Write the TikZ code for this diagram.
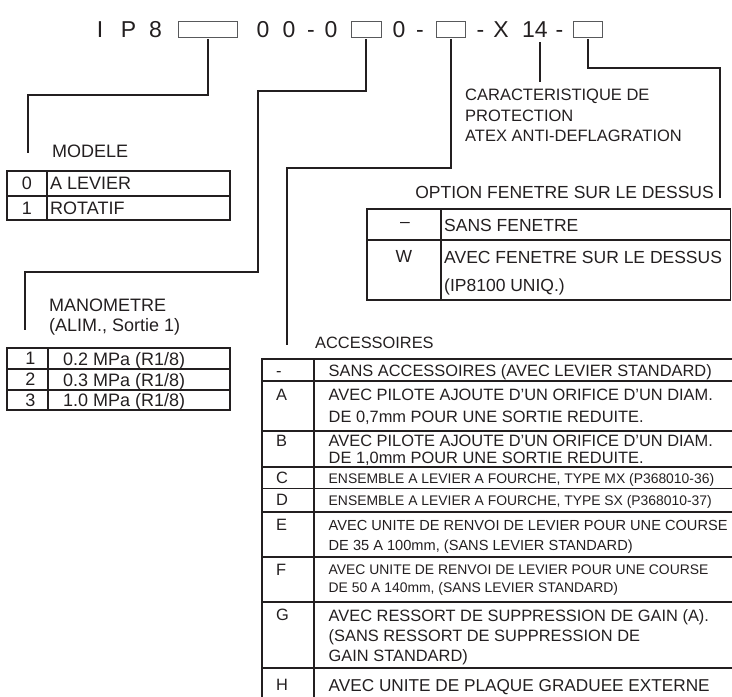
\documentclass[tikz,border=0pt]{standalone}
\usepackage{fontspec}
\setmainfont{Liberation Sans}
\usetikzlibrary{calc}
\definecolor{ink}{HTML}{231F20}
\definecolor{slotgray}{HTML}{58595B}
\newcommand{\pxfont}[2]{\fontsize{#1}{#2}\selectfont}

\begin{document}
\begin{tikzpicture}[x=1pt, y=-1pt,
  lead/.style={ink, line width=2pt, shorten <=1.5pt},
  rule/.style={ink, line width=1.8pt},
  slot/.style={draw=slotgray, line width=0.9pt, minimum height=16pt, inner sep=0pt},
  ttl/.style={text=ink, font=\pxfont{23}{26}, anchor=base, inner sep=0pt},
  lbl/.style={text=ink, font=\pxfont{18}{20}, anchor=north west, inner sep=0pt, align=left},
  cell/.style={text=ink, anchor=north west, inner sep=0pt, align=left}]

\useasboundingbox (0,0) rectangle (732,697);

% Reference code
\foreach \c/\x in {I/100, P/128.5, 8/155.5, 0/263, 0/289, -/311, 0/331,
                   0/399, -/420, -/480.5, X/501, -/559.5}
  \node[ttl] at (\x,37) {\c};
\node[ttl] (code14) at (535,37) {14};

\node[slot, minimum width=59pt] (modslot) at (207.5,29) {};
\node[slot, minimum width=30pt] (manslot) at (366,29) {};
\node[slot, minimum width=29pt] (accslot) at (450.5,29) {};
\node[slot, minimum width=29pt] (winslot) at (587.5,29) {};

% Leaders
\coordinate (modend) at (28,153);
\coordinate (manend) at (25,330);
\coordinate (accend) at (287,345);
\coordinate (caracend) at (540,82);
\coordinate (winend) at (720,198);

\draw[lead] (modslot.south) -- ++(0,58) -| (modend);
\draw[lead] (manslot.south) -- ++(0,54) -- ++(-108,0) -- ++(0,181) -| (manend);
\draw[lead] (accslot.south) -- ++(0,131) -| (accend);
\draw[lead, shorten <=5pt] (code14.south -| caracend) -- (caracend);
\draw[lead] (winslot.south) -- ++(0,31) -| (winend);

% Labels
\node[lbl] (modlbl) at (52,145) {MODELE};
\node[lbl] (manlbl) at (49,298.5) {MANOMETRE\\(ALIM., Sortie 1)};
\node[lbl, font=\pxfont{16.4}{20}] (acclbl) at (315,337) {ACCESSOIRES};
\node[lbl, font=\pxfont{16.5}{20.5}] (caraclbl) at (465,89)
  {CARACTERISTIQUE DE\\PROTECTION\\ATEX ANTI-DEFLAGRATION};
\node[lbl, font=\pxfont{17.5}{20}, anchor=north east] (winlbl) at (714,185.7)
  {OPTION FENETRE SUR LE DESSUS};

% MODELE table
\draw[rule] (7,171) rectangle (230,220);
\draw[rule] (7,196) -- (230,196) (47,171) -- (47,220);
\foreach \k/\t/\y in {0/A LEVIER/177, 1/ROTATIF/201.5} {
  \node[cell, font=\pxfont{18}{20}, anchor=north] at (27,\y) {\k};
  \node[cell, font=\pxfont{18}{20}] at (50,\y) {\t};
}

% MANOMETRE table
\draw[rule] (7,348) rectangle (230,410);
\draw[rule] (7,369) -- (230,369) (7,390) -- (230,390) (48,348) -- (48,410);
\foreach \k/\t/\y in {1/0.2/352, 2/0.3/373, 3/1.0/393.5} {
  \node[cell, font=\pxfont{18}{20}, anchor=north] at (30.5,\y) {\k};
  \node[cell, font=\pxfont{18}{20}] at (63,\y) {\t\ MPa (R1/8)};
}

% Window option table
\draw[rule] (367,209) rectangle (730.5,300);
\draw[rule] (367,240) -- (730.5,240) (441,209) -- (441,300);
\node[cell, font=\pxfont{17.5}{28}, anchor=center] at (405,225) {--};
\node[cell, font=\pxfont{17.5}{28}, anchor=north] at (404,250.7) {W};
\node[cell, font=\pxfont{17.5}{28}] at (444,218.7) {SANS FENETRE};
\node[cell, font=\pxfont{17.5}{28}] at (444,250.7)
  {AVEC FENETRE SUR LE DESSUS\\(IP8100 UNIQ.)};

% ACCESSOIRES table
\draw[rule] (262,697) -- (262,359) -- (732,359);
\draw[rule] (314,359) -- (314,697);
\foreach \y in {381,431,467,488.5,512,557,602,668}
  \draw[rule, line width=1.5pt] (262,\y) -- (732,\y);

\foreach \k/\c/\s/\b/\t in {
  -/370.5/16.4/20/{SANS ACCESSOIRES (AVEC LEVIER STANDARD)},
  A/395/16.4/22/{AVEC PILOTE AJOUTE D'UN ORIFICE D'UN DIAM.\\DE 0,7mm POUR UNE SORTIE REDUITE.},
  B/441/16.4/16.5/{AVEC PILOTE AJOUTE D'UN ORIFICE D'UN DIAM.\\DE 1,0mm POUR UNE SORTIE REDUITE.},
  C/478/13.9/18/{ENSEMBLE A LEVIER A FOURCHE, TYPE MX (P368010-36)},
  D/500/13.9/18/{ENSEMBLE A LEVIER A FOURCHE, TYPE SX (P368010-37)},
  E/525/14.6/20/{AVEC UNITE DE RENVOI DE LEVIER POUR UNE COURSE\\DE 35 A 100mm, (SANS LEVIER STANDARD)},
  F/570/13.9/18/{AVEC UNITE DE RENVOI DE LEVIER POUR UNE COURSE\\DE 50 A 140mm, (SANS LEVIER STANDARD)},
  G/615/16.4/20/{AVEC RESSORT DE SUPPRESSION DE GAIN (A).\\(SANS RESSORT DE SUPPRESSION DE\\GAIN STANDARD)},
  H/685/17.2/20/{AVEC UNITE DE PLAQUE GRADUEE EXTERNE}} {
  \node[cell, font=\pxfont{16.4}{20}, anchor=base west] at (276,{\c+5.87}) {\k};
  \node[cell, font=\pxfont{\s}{\b}] at (328.5,{\c-0.358*\s}) {\t};
}

\end{tikzpicture}
\end{document}
